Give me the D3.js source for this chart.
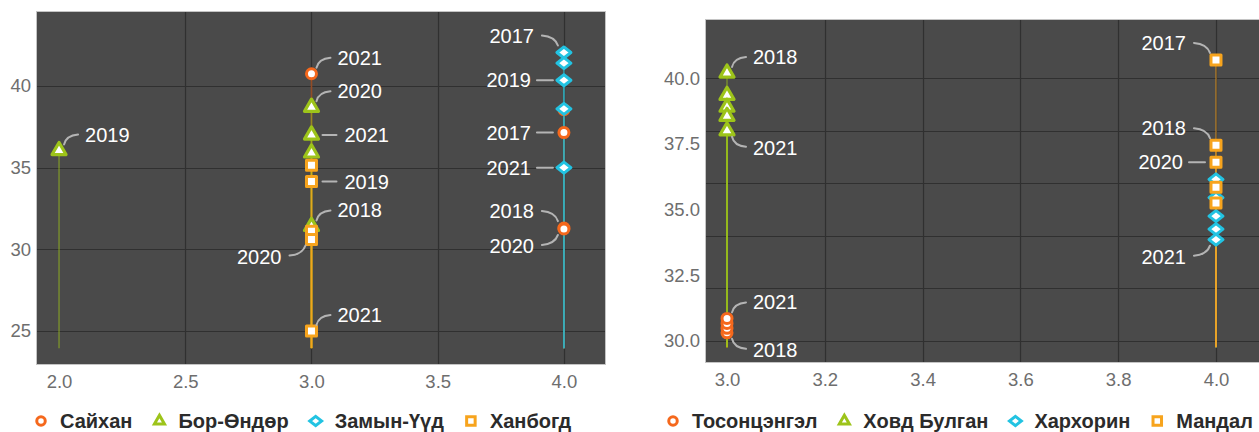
<!DOCTYPE html>
<html>
<head>
<meta charset="utf-8">
<script src="https://cdn.jsdelivr.net/npm/d3@7"></script>
<style>
  html, body { margin: 0; padding: 0; background: #ffffff; }
  svg { display: block; font-family: "Liberation Sans", Arial, sans-serif; }
</style>
</head>
<body>
<svg id="chart" width="1259" height="432"></svg>
<script>
// ---- data ----------------------------------------------------------------
const years = [2017, 2018, 2019, 2020, 2021];

// Left panel
const leftSeries = ["Сайхан", "Бор-Өндөр", "Замын-Үүд", "Ханбогд"];
const saikhanX   = [4, 4, 4, 4, 3];
const saikhanY   = [37.15, 31.3, 38.55, 31.25, 40.75];
const borOndorX  = [3, 3, 2, 3, 3];
const borOndorY  = [35.9, 31.4, 36.05, 38.7, 37.0];
const zamynUudX  = [4, 4, 4, 4, 4];
const zamynUudY  = [42.05, 41.4, 40.35, 38.6, 35.0];
const khanbogdX  = [3, 3, 3, 3, 3];
const khanbogdY  = [35.15, 31.1, 34.15, 30.6, 25.0];
const leftXTicks = [2.0, 2.5, 3.0, 3.5, 4.0];
const leftYTicks = [25, 30, 35, 40];

// Right panel
const rightSeries   = ["Тосонцэнгэл", "Ховд Булган", "Хархорин", "Мандал"];
const tosonYears    = [2018, 2019, 2020, 2021];
const tosonX        = [3, 3, 3, 3];
const tosonY        = [30.3, 30.47, 30.66, 30.85];
const khovdX        = [3, 3, 3, 3, 3];
const khovdY        = [39.35, 40.2, 38.9, 38.55, 38.0];
const kharkhorinX   = [4, 4, 4, 4, 4];
const kharkhorinY   = [36.15, 35.45, 34.75, 34.25, 33.85];
const mandalX       = [4, 4, 4, 4, 4];
const mandalY       = [40.7, 37.45, 35.85, 36.8, 35.25];
const rightXTicks   = [3.0, 3.2, 3.4, 3.6, 3.8, 4.0];
const rightYTicks   = [30, 32.5, 35, 37.5, 40];

// Which points carry a year label, and on which side
const leftLabels = [
  { s: 1, year: 2019, side: "ur" },
  { s: 0, year: 2021, side: "ur" },
  { s: 1, year: 2020, side: "ur" },
  { s: 1, year: 2021, side: "r" },
  { s: 3, year: 2019, side: "r" },
  { s: 1, year: 2018, side: "ur" },
  { s: 3, year: 2020, side: "dl" },
  { s: 3, year: 2021, side: "ur" },
  { s: 2, year: 2017, side: "ul" },
  { s: 2, year: 2019, side: "l" },
  { s: 0, year: 2017, side: "l" },
  { s: 2, year: 2021, side: "l" },
  { s: 0, year: 2018, side: "ul" },
  { s: 0, year: 2020, side: "dl" }
];
const rightLabels = [
  { s: 1, year: 2018, side: "ur" },
  { s: 1, year: 2021, side: "dr" },
  { s: 0, year: 2021, side: "ur" },
  { s: 0, year: 2018, side: "dr" },
  { s: 3, year: 2017, side: "ul" },
  { s: 3, year: 2018, side: "ul" },
  { s: 3, year: 2020, side: "l" },
  { s: 2, year: 2021, side: "dl" }
];

// ---- styling -------------------------------------------------------------
const colors  = ["#f5681c", "#9dc41a", "#22c3e2", "#f7a41d"];
const stemColors = ["#f5681c", "#9dc41a", "#2fb4c4", "#f7a41d"];
const shapes  = ["circle", "triangle", "diamond", "square"];
const plotBg  = "#4a4a4a";
const gridCol = "#303030";

function buildSeries(names, xs, ys, yrs) {
  return names.map((name, i) => ({
    name, color: colors[i], stem: stemColors[i], shape: shapes[i],
    points: ys[i].map((v, j) => ({ x: xs[i][j], y: v, year: yrs[i][j] }))
  }));
}

const panels = [
  {
    rect: { x0: 36, x1: 606, y0: 11, y1: 365 },
    xDomain: [1.9087, 4.1667], yDomain: [22.918, 44.592],
    stemBase: 23.95,
    xTicks: leftXTicks, xGrid: [2.5, 3.0, 3.5, 4.0], xFmt: d3.format(".1f"),
    yTicks: leftYTicks, yGrid: leftYTicks, yFmt: d3.format("d"),
    series: buildSeries(leftSeries,
      [saikhanX, borOndorX, zamynUudX, khanbogdX],
      [saikhanY, borOndorY, zamynUudY, khanbogdY],
      [years, years, years, years]),
    labels: leftLabels,
    legendX: 41
  },
  {
    rect: { x0: 705, x1: 1262, y0: 19, y1: 363 },
    xDomain: [2.955, 4.0941], yDomain: [29.150, 42.260],
    stemBase: 29.75,
    xTicks: rightXTicks, xGrid: [3.2, 3.4, 3.6, 3.8, 4.0], xFmt: d3.format(".1f"),
    yTicks: rightYTicks, yGrid: [30, 32, 34, 36, 38, 40], yFmt: d3.format(".1f"),
    series: buildSeries(rightSeries,
      [tosonX, khovdX, kharkhorinX, mandalX],
      [tosonY, khovdY, kharkhorinY, mandalY],
      [tosonYears, years, years, years]),
    labels: rightLabels,
    legendX: 673
  }
];

// ---- marker shapes ---------------------------------------------------------
function markerPath(shape, scale) {
  const k = scale || 1;
  if (shape === "circle") {
    const r = 5 * k;
    return `M${r},0A${r},${r} 0 1,1 ${-r},0A${r},${r} 0 1,1 ${r},0Z`;
  }
  if (shape === "square") {
    const h = 5 * k;
    return `M${-h},${-h}H${h}V${h}H${-h}Z`;
  }
  if (shape === "triangle") {
    const s = 14 * k, h = s * Math.sqrt(3) / 2;
    return `M0,${-2 * h / 3}L${s / 2},${h / 3}L${-s / 2},${h / 3}Z`;
  }
  // diamond, wider than tall
  const w = 7 * k, v = 5.5 * k;
  return `M0,${-v}L${w},0L0,${v}L${-w},0Z`;
}

// Year-label connector geometry for each side
function connector(side, px, py) {
  switch (side) {
    case "ur": return { d: `M${px + 5},${py - 6}Q${px + 7},${py - 15} ${px + 19},${py - 16}`, tx: px + 26, ty: py - 16, anchor: "start" };
    case "dr": return { d: `M${px + 5},${py + 6}Q${px + 7},${py + 15} ${px + 19},${py + 16}`, tx: px + 26, ty: py + 17, anchor: "start" };
    case "ul": return { d: `M${px - 6},${py - 7}Q${px - 9},${py - 16} ${px - 22},${py - 17}`, tx: px - 30, ty: py - 17, anchor: "end" };
    case "dl": return { d: `M${px - 6},${py + 6}Q${px - 9},${py + 15} ${px - 22},${py + 16}`, tx: px - 30, ty: py + 17, anchor: "end" };
    case "r":  return { d: `M${px + 11},${py}L${px + 25},${py}`, tx: px + 33, ty: py, anchor: "start" };
    default:   return { d: `M${px - 11},${py}L${px - 27},${py}`, tx: px - 33, ty: py, anchor: "end" };
  }
}

const svg = d3.select("#chart");

panels.forEach((p, pi) => {
  const r = p.rect;
  const x = d3.scaleLinear().domain(p.xDomain).range([r.x0, r.x1]);
  const y = d3.scaleLinear().domain(p.yDomain).range([r.y1, r.y0]);
  const g = svg.append("g").attr("class", "panel-" + pi);

  const clipId = "clip-" + pi;
  svg.append("defs").append("clipPath").attr("id", clipId)
    .append("rect").attr("x", r.x0).attr("y", r.y0)
    .attr("width", r.x1 - r.x0).attr("height", r.y1 - r.y0);

  // background and grid
  g.append("rect").attr("x", r.x0).attr("y", r.y0)
    .attr("width", r.x1 - r.x0).attr("height", r.y1 - r.y0)
    .attr("fill", plotBg);

  const grid = g.append("g").attr("clip-path", `url(#${clipId})`);
  grid.selectAll("line.h").data(p.yGrid).join("line")
    .attr("x1", r.x0).attr("x2", r.x1)
    .attr("y1", d => Math.round(y(d)) + 0.5).attr("y2", d => Math.round(y(d)) + 0.5)
    .attr("stroke", gridCol).attr("stroke-width", 1.2);
  grid.selectAll("line.v").data(p.xGrid).join("line")
    .attr("y1", r.y0).attr("y2", r.y1)
    .attr("x1", d => Math.round(x(d)) + 0.5).attr("x2", d => Math.round(x(d)) + 0.5)
    .attr("stroke", gridCol).attr("stroke-width", 1.2);

  g.append("rect").attr("x", r.x0 + 0.5).attr("y", r.y0 + 0.5)
    .attr("width", r.x1 - r.x0 - 1).attr("height", r.y1 - r.y0 - 1)
    .attr("fill", "none").attr("stroke", "#c4c4c4").attr("stroke-width", 1);

  // axes (labels only, no domain line)
  const yAxis = d3.axisLeft(y).tickValues(p.yTicks).tickFormat(p.yFmt).tickSize(0).tickPadding(5);
  const ya = g.append("g").attr("transform", `translate(${r.x0},0)`).call(yAxis);
  const xAxis = d3.axisBottom(x).tickValues(p.xTicks).tickFormat(p.xFmt).tickSize(0).tickPadding(10);
  const xa = g.append("g").attr("transform", `translate(0,${r.y1})`).call(xAxis);
  [ya, xa].forEach(a => {
    a.select(".domain").remove();
    a.selectAll("text").attr("fill", "#6e6e6e").attr("font-size", 18.5)
      .attr("font-family", "'Liberation Sans', Arial, sans-serif");
  });

  const data = g.append("g").attr("clip-path", `url(#${clipId})`);

  // stems from the baseline up to every point
  p.series.forEach(s => {
    data.append("g").selectAll("line").data(s.points).join("line")
      .attr("x1", d => x(d.x)).attr("x2", d => x(d.x))
      .attr("y1", y(p.stemBase)).attr("y2", d => y(d.y))
      .attr("stroke", s.stem).attr("stroke-opacity", 0.5).attr("stroke-width", 1.6);
  });

  // markers
  p.series.forEach(s => {
    data.append("g").selectAll("path").data(s.points).join("path")
      .attr("transform", d => `translate(${x(d.x)},${y(d.y)})`)
      .attr("d", markerPath(s.shape))
      .attr("fill", "#ffffff").attr("stroke", s.color)
      .attr("stroke-width", s.shape === "triangle" ? 3.2 : 3)
      .attr("stroke-linejoin", "round");
  });

  // year labels
  const lab = g.append("g");
  p.labels.forEach(l => {
    const s = p.series[l.s];
    const pt = s.points.find(d => d.year === l.year);
    const c = connector(l.side, x(pt.x), y(pt.y));
    lab.append("path").attr("d", c.d).attr("fill", "none")
      .attr("stroke", "#b4b4b4").attr("stroke-width", 2).attr("stroke-linecap", "round");
    lab.append("text").attr("x", c.tx).attr("y", c.ty).attr("dy", "0.35em")
      .attr("text-anchor", c.anchor).attr("fill", "#ffffff")
      .attr("font-size", 20).text(pt.year);
  });

  // legend
  const leg = g.append("g").attr("transform", "translate(0,421)");
  let cx = p.legendX;
  p.series.forEach(s => {
    leg.append("path").attr("transform", `translate(${cx},0)`)
      .attr("d", markerPath(s.shape, s.shape === "triangle" ? 0.72 : 0.85))
      .attr("fill", "#ffffff").attr("stroke", s.color).attr("stroke-width", 3);
    const t = leg.append("text").attr("x", cx + 19).attr("y", 0).attr("dy", "0.35em")
      .attr("fill", "#2b2b2b").attr("font-weight", "bold").attr("font-size", 20)
      .text(s.name);
    cx = cx + 19 + t.node().getComputedTextLength() + 27;
  });
});
</script>
</body>
</html>
